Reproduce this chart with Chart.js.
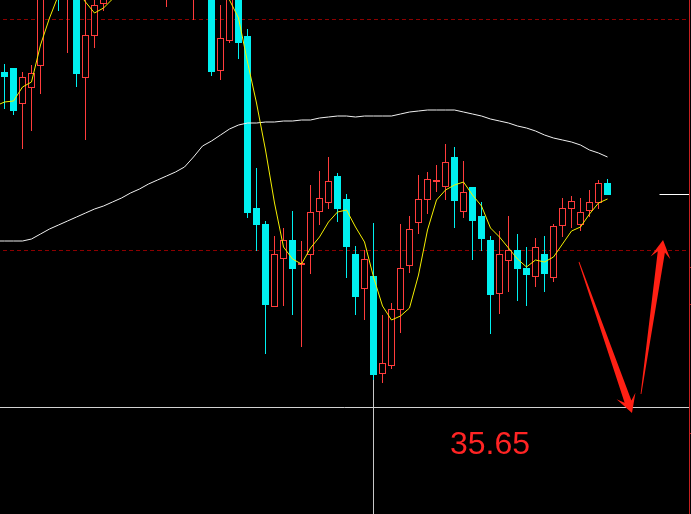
<!DOCTYPE html>
<html><head><meta charset="utf-8">
<script src="https://cdn.jsdelivr.net/npm/chart.js@4.4.1/dist/chart.umd.min.js"></script>
<style>html,body{margin:0;padding:0;background:#000;overflow:hidden}#wrap{width:691px;height:514px;background:#000}</style>
</head><body><div id="wrap"><canvas id="c" width="691" height="514"></canvas></div>
<script>
// ---- data (index 0 is just left of the visible window) ----
const openPrices  = [38.70,39.00,39.04,38.68,38.84,39.06,39.90,40.40,39.76,40.20,38.94,39.36,39.68,40.00,40.35,40.60,40.40,40.80,40.50,40.10,40.40,40.10,39.90,40.20,39.90,39.01,39.31,39.85,39.36,37.64,37.48,36.65,37.13,37.32,37.07,37.17,37.60,37.69,37.96,37.73,37.18,36.83,36.96,35.98,36.06,36.62,37.06,37.49,37.72,37.90,37.85,38.15,37.60,37.85,37.56,37.32,36.78,37.11,37.22,37.04,36.95,37.18,36.94,37.46,37.63,37.47,37.61,37.69,37.89];
const highPrices  = [38.80,39.08,39.04,39.00,39.07,40.00,40.45,40.50,40.40,40.30,39.80,39.85,40.10,40.45,40.70,40.75,40.90,40.85,40.80,40.50,40.50,40.45,40.30,40.25,40.00,39.67,39.90,39.95,39.43,38.04,37.51,37.36,37.44,37.61,37.31,37.87,38.01,38.15,37.99,37.78,37.26,37.22,37.49,36.57,36.69,37.48,37.56,37.97,38.00,38.07,38.28,38.25,38.11,37.85,37.70,37.36,37.41,37.56,37.38,37.25,37.34,37.36,37.48,37.74,37.76,37.74,37.82,37.92,37.93];
const lowPrices   = [38.50,38.63,38.57,38.23,38.41,38.78,39.80,39.61,39.19,38.85,38.32,39.24,39.61,39.90,40.25,40.30,40.35,40.40,40.40,39.65,39.95,39.90,39.52,39.78,38.96,38.92,39.29,39.13,37.54,37.21,36.18,36.65,36.66,36.57,36.25,36.98,37.47,37.63,37.50,36.94,36.57,36.52,35.92,35.89,36.03,36.39,36.99,37.38,37.58,37.80,37.72,37.44,37.54,37.12,37.21,36.38,36.58,36.80,36.71,36.66,36.85,36.80,36.90,37.35,37.44,37.41,37.55,37.63,37.77];
const closePrices = [38.60,38.95,38.61,38.95,38.99,39.90,40.30,39.74,40.30,38.98,39.37,39.67,40.00,40.35,40.60,40.40,40.80,40.50,40.70,40.40,40.10,40.30,40.20,39.85,39.00,39.34,39.80,39.29,37.59,37.47,36.67,37.18,37.32,37.03,37.09,37.60,37.74,37.91,37.63,37.25,36.75,37.13,35.97,36.09,36.63,37.04,37.43,37.73,37.93,37.92,38.10,37.71,37.80,37.51,37.33,36.77,37.18,37.22,37.03,36.97,37.25,36.98,37.46,37.64,37.71,37.60,37.70,37.89,37.77];
const maShort = [38.66,38.70,38.71,38.85,38.90,39.27,39.54,39.77,39.92,39.82,39.70,39.59,39.64,39.73,39.95,40.10,40.20,40.30,40.35,40.30,40.25,40.20,40.15,40.05,39.98,39.92,39.72,39.54,39.10,38.69,38.22,37.69,37.25,37.13,37.08,37.24,37.35,37.50,37.60,37.62,37.45,37.30,36.95,36.66,36.52,36.56,36.64,36.97,37.42,37.72,37.82,37.87,37.90,37.77,37.66,37.44,37.35,37.24,37.13,37.05,37.12,37.10,37.15,37.28,37.41,37.45,37.58,37.69,37.73];
const maLong  = [37.31,37.31,37.31,37.31,37.33,37.38,37.43,37.47,37.51,37.55,37.59,37.63,37.66,37.70,37.74,37.79,37.83,37.88,37.92,37.96,38.00,38.05,38.15,38.26,38.31,38.37,38.43,38.47,38.49,38.49,38.50,38.50,38.51,38.51,38.52,38.52,38.54,38.55,38.56,38.56,38.55,38.56,38.56,38.56,38.56,38.58,38.60,38.61,38.62,38.62,38.62,38.62,38.60,38.58,38.56,38.53,38.51,38.49,38.46,38.44,38.41,38.37,38.34,38.32,38.30,38.27,38.22,38.19,38.15];
const dashedLevels = [39.53, 37.22];
const supportLevel = 35.65;
const rightAxisTicks = [37.05, 36.68, 35.39];
const crossIndex = 42;
// arrows: [tailIndex, tailPrice, tipIndex, tipPrice]
const arrowDown = [64.83, 37.10, 70.72, 35.59];
const arrowUp   = [71.72, 35.78, 74.17, 37.32];
const priceTop = 39.72, priceBottom = 34.58;
const viewMin = 0.5, viewMax = 0.5 + 691 / 9;

const RED = '#ff3c3c', CYAN = '#00f0f0';
const idx = openPrices.map((_, i) => i);
const isUp = i => closePrices[i] >= openPrices[i];

function drawArrow(ctx, xs, ys, a) {
  const tx = xs.getPixelForValue(a[0]), ty = ys.getPixelForValue(a[1]);
  const px = xs.getPixelForValue(a[2]), py = ys.getPixelForValue(a[3]);
  const dx = px - tx, dy = py - ty, L = Math.hypot(dx, dy);
  const ux = dx / L, uy = dy / L, nx = -uy, ny = ux;
  const join = L - 12, wing = L - 18, sw = 3.6, hw = 10, tw = 0.4;
  const P = (d, w) => [tx + ux * d + nx * w, ty + uy * d + ny * w];
  const pts = [P(0, tw), P(join, sw), P(wing, hw), [px, py], P(wing, -hw), P(join, -sw), P(0, -tw)];
  ctx.beginPath();
  pts.forEach((p, k) => k ? ctx.lineTo(p[0], p[1]) : ctx.moveTo(p[0], p[1]));
  ctx.closePath();
  ctx.fill();
}

const overlay = {
  id: 'overlay',
  beforeDatasetsDraw(chart) {
    const { ctx, scales: { y }, chartArea: ca } = chart;
    ctx.save();
    ctx.strokeStyle = '#8c0000'; ctx.lineWidth = 1; ctx.setLineDash([4, 3]);
    dashedLevels.forEach(p => {
      const py = Math.round(y.getPixelForValue(p)) + 0.5;
      ctx.beginPath(); ctx.moveTo(ca.left + 3, py); ctx.lineTo(ca.right - 2, py); ctx.stroke();
    });
    ctx.restore();
  },
  afterDatasetsDraw(chart) {
    const { ctx, scales: { x, y }, chartArea: ca } = chart;
    const axisX = ca.right - 1.5;
    ctx.save();
    ctx.lineWidth = 1;
    // support level line
    let py = Math.round(y.getPixelForValue(supportLevel)) + 0.5;
    ctx.strokeStyle = '#d2d2d2';
    ctx.beginPath(); ctx.moveTo(ca.left, py); ctx.lineTo(axisX, py); ctx.stroke();
    // last price marker
    py = Math.round(y.getPixelForValue(closePrices[closePrices.length - 1])) - 0.5;
    ctx.strokeStyle = '#ffffff';
    ctx.beginPath(); ctx.moveTo(axisX - 30, py); ctx.lineTo(axisX, py); ctx.stroke();
    // right axis
    ctx.strokeStyle = '#c82020';
    ctx.beginPath(); ctx.moveTo(axisX, ca.top); ctx.lineTo(axisX, ca.bottom); ctx.stroke();
    rightAxisTicks.forEach(p => {
      const ty = Math.round(y.getPixelForValue(p)) + 0.5;
      ctx.beginPath(); ctx.moveTo(axisX, ty); ctx.lineTo(axisX + 3, ty); ctx.stroke();
    });
    // arrows
    ctx.fillStyle = '#ff2014';
    drawArrow(ctx, x, y, arrowDown);
    drawArrow(ctx, x, y, arrowUp);
    // label
    ctx.fillStyle = '#ff2424';
    ctx.font = '32px "Liberation Sans", Arial, sans-serif';
    ctx.textBaseline = 'alphabetic';
    ctx.fillText(supportLevel.toFixed(2), 450, 454);
    ctx.restore();
  }
};

new Chart(document.getElementById('c'), {
  type: 'bar',
  data: {
    datasets: [
      { type: 'line', label: 'MA短', data: idx.map(i => ({ x: i, y: maShort[i] })), borderColor: '#f5f000', borderWidth: 1, pointRadius: 0, tension: 0, fill: false, order: 0 },
      { type: 'line', label: 'MA长', data: idx.map(i => ({ x: i, y: maLong[i] })), borderColor: '#f0f0f0', borderWidth: 1, pointRadius: 0, tension: 0, fill: false, order: 0 },
      { type: 'line', label: 'cross', data: [{ x: crossIndex, y: lowPrices[crossIndex] }, { x: crossIndex, y: priceBottom }], borderColor: '#c8c8c8', borderWidth: 1, pointRadius: 0, fill: false, order: 0 },
      { type: 'bar', label: 'body', data: idx.map(i => ({ x: i, y: [openPrices[i], closePrices[i]] })),
        backgroundColor: idx.map(i => isUp(i) ? '#000000' : CYAN),
        borderColor: idx.map(i => isUp(i) ? RED : CYAN),
        borderWidth: idx.map(i => isUp(i) ? 1 : 0),
        borderSkipped: false, barThickness: 7, grouped: false, inflateAmount: 0, order: 1 },
      { type: 'bar', label: 'wick', data: idx.map(i => ({ x: i, y: [lowPrices[i], highPrices[i]] })),
        backgroundColor: idx.map(i => isUp(i) ? RED : CYAN),
        borderWidth: 0, barThickness: 1, grouped: false, inflateAmount: 0, order: 2 }
    ]
  },
  options: {
    responsive: false, animation: false, events: [],
    layout: { padding: 0 },
    plugins: { legend: { display: false }, tooltip: { enabled: false } },
    scales: {
      x: { type: 'linear', min: viewMin, max: viewMax, display: false, offset: false },
      y: { type: 'linear', min: priceBottom, max: priceTop, display: false }
    }
  },
  plugins: [overlay]
});
</script>
</body></html>
